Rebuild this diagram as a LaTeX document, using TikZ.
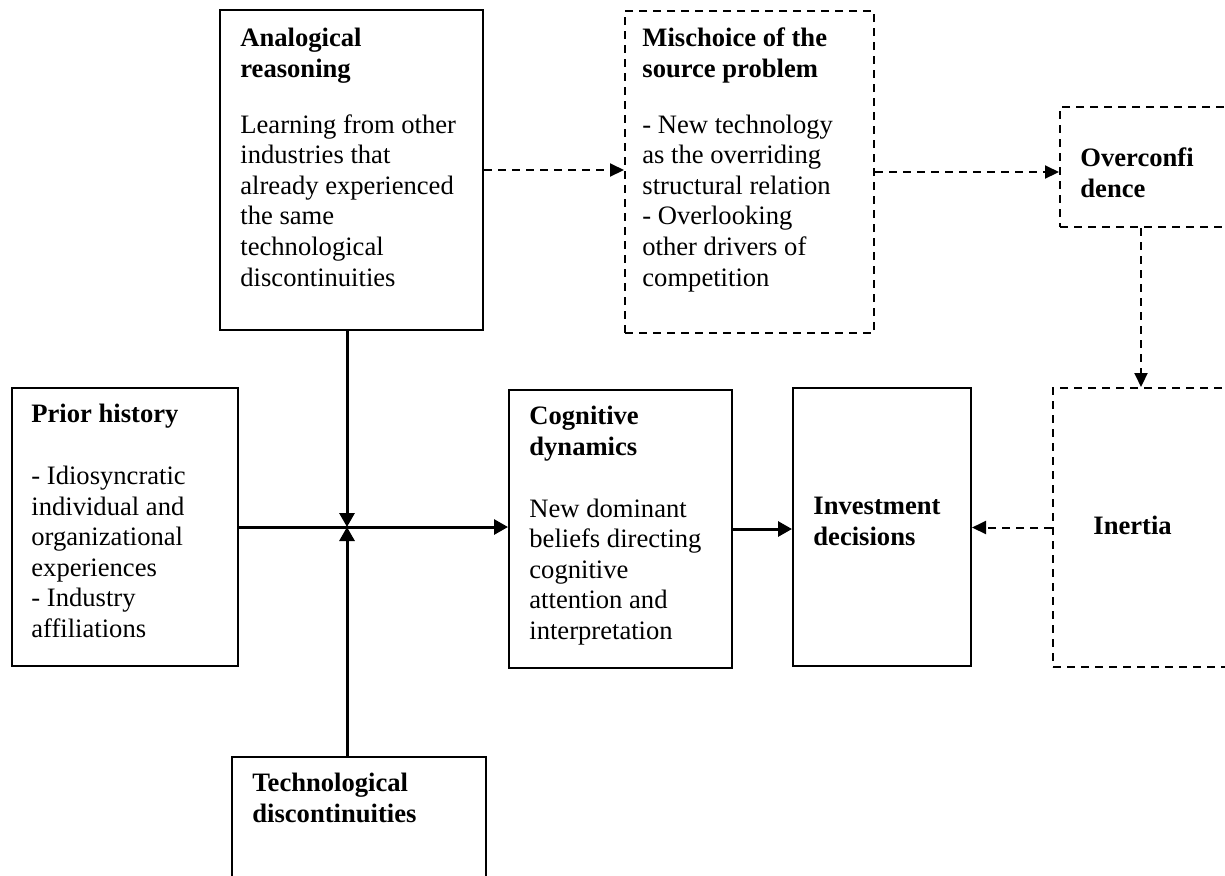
\documentclass[tikz,border=0pt]{standalone}
\usepackage{fontspec}
\setmainfont{Liberation Serif}
\usetikzlibrary{arrows.meta}
\newcommand{\boxfont}{\fontsize{13.3}{15.3}\selectfont}
\tikzset{
  framebox/.style={draw, line width=1pt, inner sep=0pt},
  dashbox/.style={framebox, dash pattern=on 4pt off 3pt},
  boxtext/.style={anchor=north west, align=left, inner sep=0pt, font=\boxfont},
  link/.style={line width=1.5pt, -{Triangle[length=7pt,width=7.5pt]}},
  dashlink/.style={line width=1pt, dash pattern=on 4pt off 3pt, -{Triangle[length=7pt,width=6.5pt]}}
}
\begin{document}
\begin{tikzpicture}[x=0.5pt, y=-0.5pt]
  \useasboundingbox (0,0) rectangle (1225,875);
  \clip (0,0) rectangle (1225,875);
  % Boxes: solid
  \node[framebox, minimum width=131.5pt, minimum height=160pt] (ana) at (351.5,170) {};
  \node[framebox, minimum width=113pt, minimum height=139pt] (pri) at (125,527) {};
  \node[framebox, minimum width=111.5pt, minimum height=139pt] (cog) at (620.5,529) {};
  \node[framebox, minimum width=89pt, minimum height=139pt] (inv) at (882,527) {};
  \node[framebox, minimum width=127pt, minimum height=81.5pt] (tec) at (359,838.5) {};
  % Boxes: dashed
  \node[dashbox, minimum width=124.5pt, minimum height=161pt] (mis) at (749.5,172) {};
  \node[dashbox, minimum width=95pt, minimum height=60pt] (ovc) at (1155,167) {};
  \node[dashbox, minimum width=98.5pt, minimum height=139.5pt] (ine) at (1151.5,527.5) {};
  % Texts
  \node[boxtext] (anatext) at ([shift={(21,15.6)}]ana.north west)
    {\strut\textbf{Analogical}\\\textbf{reasoning}\\[12.7pt]Learning from other\\industries that\\already experienced\\the same\\technological\\discontinuities};
  \node[boxtext] (mistext) at ([shift={(18,14.6)}]mis.north west)
    {\strut\textbf{Mischoice of the}\\\textbf{source problem}\\[12.7pt]- New technology\\as the overriding\\structural relation\\- Overlooking\\other drivers of\\competition};
  \node[boxtext] (ovctext) at ([shift={(21,38.6)}]ovc.north west)
    {\strut\textbf{Overconfi}\\\textbf{dence}};
  \node[boxtext] (pritext) at ([shift={(20,13.6)}]pri.north west)
    {\strut\textbf{Prior history}\\[15.7pt]- Idiosyncratic\\individual and\\organizational\\experiences\\- Industry\\affiliations};
  \node[boxtext] (cogtext) at ([shift={(21,13.6)}]cog.north west)
    {\strut\textbf{Cognitive}\\\textbf{dynamics}\\[15.7pt]New dominant\\beliefs directing\\cognitive\\attention and\\interpretation};
  \node[boxtext] (invtext) at ([shift={(21,105.6)}]inv.north west)
    {\strut\textbf{Investment}\\\textbf{decisions}};
  \node[boxtext] (tectext) at ([shift={(21,13.6)}]tec.north west)
    {\strut\textbf{Technological}\\\textbf{discontinuities}};
  \node[boxtext] (inetext) at ([shift={(41,125.6)}]ine.north west)
    {\strut\textbf{Inertia}};
  % Solid connectors
  \coordinate (hub) at (347,527);
  \draw[line width=1.5pt] (pri.east) -- (hub);
  \draw[link] (hub) -- (hub -| cog.west);
  \draw[link] (hub |- ana.south) -- (hub);
  \draw[link] (hub |- tec.north) -- (hub);
  \draw[link] (cog.east) -- (cog.east -| inv.west);
  % Dashed connectors
  \draw[dashlink] (ana.east) -- (ana.east -| mis.west);
  \draw[dashlink] (mis.east) -- (mis.east -| ovc.west);
  \draw[dashlink] ([xshift=41pt]ovc.south west) -- ([xshift=41pt]ovc.south west |- ine.north);
  \draw[dashlink] (ine.west) -- (ine.west -| inv.east);
\end{tikzpicture}
\end{document}
